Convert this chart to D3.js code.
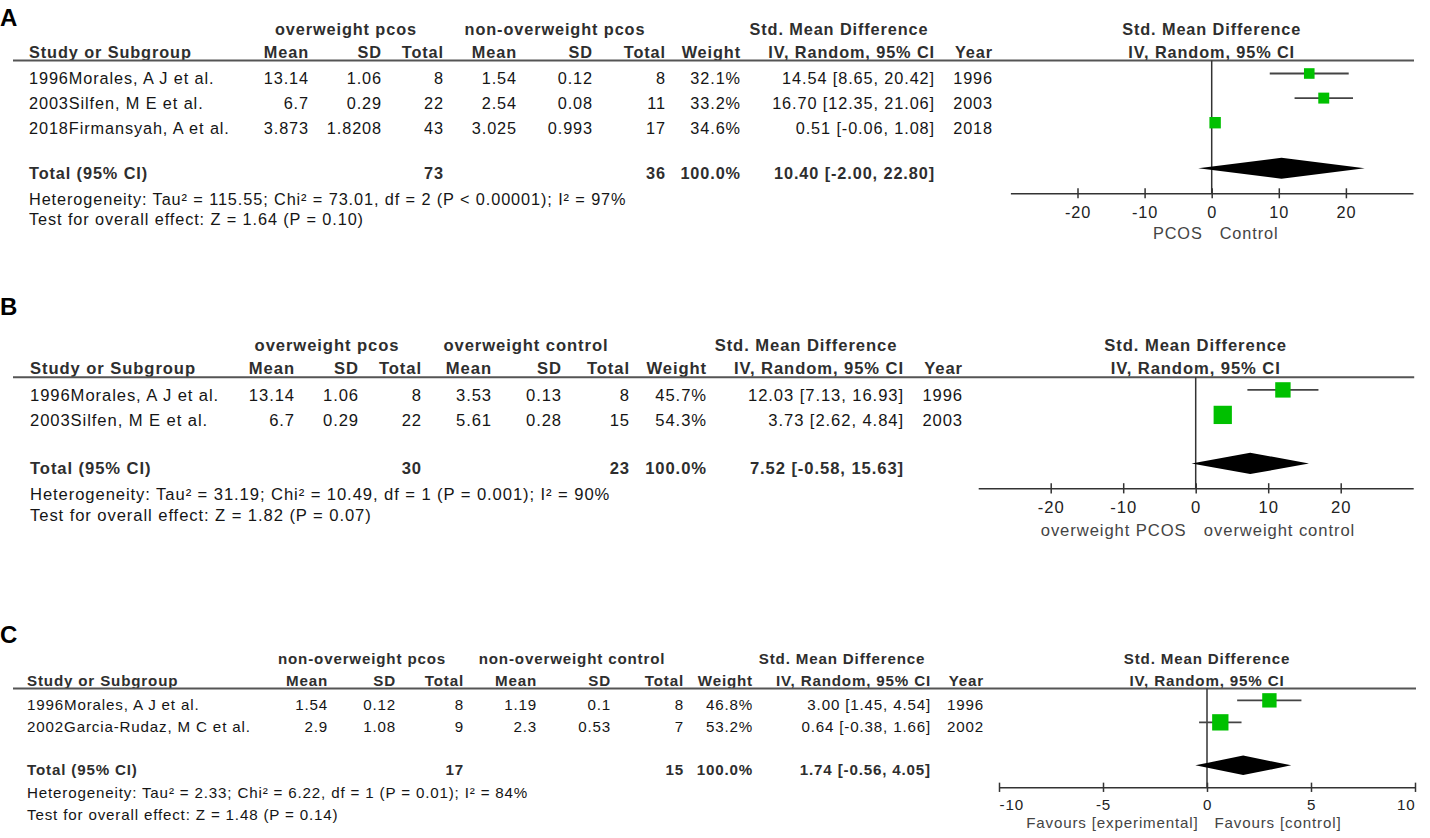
<!DOCTYPE html>
<html>
<head>
<meta charset="utf-8">
<script src="https://cdnjs.cloudflare.com/ajax/libs/d3/7.8.5/d3.min.js"></script>
<style>
  body { margin: 0; background: #fff; }
  svg text { font-family: 'Liberation Sans', Arial, Helvetica, sans-serif; }
</style>
</head>
<body>
<svg id="chart" width="1430" height="838"></svg>
<script>
// ---------- A: overweight pcos vs non-overweight pcos
const studiesA = ["1996Morales, A J et al.", "2003Silfen, M E et al.", "2018Firmansyah, A et al."];
const meanExpA = [13.14, 6.7, 3.873];
const sdExpA = [1.06, 0.29, 1.8208];
const nExpA = [8, 22, 43];
const meanCtlA = [1.54, 2.54, 3.025];
const sdCtlA = [0.12, 0.08, 0.993];
const nCtlA = [8, 11, 17];
const weightA = [32.1, 33.2, 34.6];
const smdA = [14.54, 16.70, 0.51];
const loA = [8.65, 12.35, -0.06];
const hiA = [20.42, 21.06, 1.08];
const yearA = [1996, 2003, 2018];
const totalNA = [73, 36];
const pooledA = [10.40, -2.00, 22.80];
const groupsA = ["overweight pcos", "non-overweight pcos"];
const favoursA = ["PCOS", "Control"];
const hetA = "Heterogeneity: Tau² = 115.55; Chi² = 73.01, df = 2 (P < 0.00001); I² = 97%";
const effectA = "Test for overall effect: Z = 1.64 (P = 0.10)";
const domainA = [-30, 30];
const ticksA = [-20, -10, 0, 10, 20];

// ---------- B: overweight pcos vs overweight control
const studiesB = ["1996Morales, A J et al.", "2003Silfen, M E et al."];
const meanExpB = [13.14, 6.7];
const sdExpB = [1.06, 0.29];
const nExpB = [8, 22];
const meanCtlB = [3.53, 5.61];
const sdCtlB = [0.13, 0.28];
const nCtlB = [8, 15];
const weightB = [45.7, 54.3];
const smdB = [12.03, 3.73];
const loB = [7.13, 2.62];
const hiB = [16.93, 4.84];
const yearB = [1996, 2003];
const totalNB = [30, 23];
const pooledB = [7.52, -0.58, 15.63];
const groupsB = ["overweight pcos", "overweight control"];
const favoursB = ["overweight PCOS", "overweight control"];
const hetB = "Heterogeneity: Tau² = 31.19; Chi² = 10.49, df = 1 (P = 0.001); I² = 90%";
const effectB = "Test for overall effect: Z = 1.82 (P = 0.07)";
const domainB = [-30, 30];
const ticksB = [-20, -10, 0, 10, 20];

// ---------- C: non-overweight pcos vs non-overweight control
const studiesC = ["1996Morales, A J et al.", "2002Garcia-Rudaz, M C et al."];
const meanExpC = [1.54, 2.9];
const sdExpC = [0.12, 1.08];
const nExpC = [8, 9];
const meanCtlC = [1.19, 2.3];
const sdCtlC = [0.1, 0.53];
const nCtlC = [8, 7];
const weightC = [46.8, 53.2];
const smdC = [3.00, 0.64];
const loC = [1.45, -0.38];
const hiC = [4.54, 1.66];
const yearC = [1996, 2002];
const totalNC = [17, 15];
const pooledC = [1.74, -0.56, 4.05];
const groupsC = ["non-overweight pcos", "non-overweight control"];
const favoursC = ["Favours [experimental]", "Favours [control]"];
const hetC = "Heterogeneity: Tau² = 2.33; Chi² = 6.22, df = 1 (P = 0.01); I² = 84%";
const effectC = "Test for overall effect: Z = 1.48 (P = 0.14)";
const domainC = [-10, 10];
const ticksC = [-10, -5, 0, 5, 10];

const colHeads = ["Mean", "SD", "Total"];

// layout of each panel (pixel positions)
const panels = [
  { letter: "A", studies: studiesA, mE: meanExpA, sdE: sdExpA, nE: nExpA, mC: meanCtlA, sdC: sdCtlA, nC: nCtlA,
    weight: weightA, est: smdA, lo: loA, hi: hiA, year: yearA, totalN: totalNA, pooled: pooledA,
    groups: groupsA, favours: favoursA, het: hetA, effect: effectA, domain: domainA, ticks: ticksA,
    s: 1, rowStep: 24.6,
    y: { letter: 17, group: 29.3, col: 51.7, line: 60.5, row0: 78.5, total: 173.3, het: 199.5, test: 219,
         axis: 193.3, tickLab: 211.7, fav: 233 },
    x: { study: 29, m1: 309, sd1: 382, n1: 444, m2: 517, sd2: 593, n2: 666, w: 741, ci: 935, yr: 993,
         g1: 346, g2: 555, gci: 839, f0: 1010.4, f1: 1413, line0: 13 } },
  { letter: "B", studies: studiesB, mE: meanExpB, sdE: sdExpB, nE: nExpB, mC: meanCtlB, sdC: sdCtlB, nC: nCtlB,
    weight: weightB, est: smdB, lo: loB, hi: hiB, year: yearB, totalN: totalNB, pooled: pooledB,
    groups: groupsB, favours: favoursB, het: hetB, effect: effectB, domain: domainB, ticks: ticksB,
    s: 1.02, rowStep: 25,
    y: { letter: 306.7, group: 345, col: 368, line: 377.3, row0: 395, total: 468.5, het: 493.7, test: 515,
         axis: 488.3, tickLab: 506.7, fav: 530 },
    x: { study: 30, m1: 295, sd1: 359, n1: 422, m2: 492, sd2: 562, n2: 630, w: 707, ci: 904, yr: 963,
         g1: 327, g2: 526, gci: 806, f0: 978.2, f1: 1413.2, line0: 13 } },
  { letter: "C", studies: studiesC, mE: meanExpC, sdE: sdExpC, nE: nExpC, mC: meanCtlC, sdC: sdCtlC, nC: nCtlC,
    weight: weightC, est: smdC, lo: loC, hi: hiC, year: yearC, totalN: totalNC, pooled: pooledC,
    groups: groupsC, favours: favoursC, het: hetC, effect: effectC, domain: domainC, ticks: ticksC,
    s: 0.93, rowStep: 22,
    y: { letter: 634, group: 659, col: 681, line: 688.5, row0: 705, total: 770, het: 793, test: 815,
         axis: 787.3, tickLab: 805, fav: 823 },
    x: { study: 27, m1: 328, sd1: 396, n1: 464, m2: 537, sd2: 611, n2: 684, w: 753, ci: 931, yr: 984,
         g1: 362, g2: 572, gci: 842, f0: 999, f1: 1415, line0: 13 } }
];

const svg = d3.select("#chart");
const ciText = (e, l, h) => e.toFixed(2) + " [" + l.toFixed(2) + ", " + h.toFixed(2) + "]";

function drawPanel(p) {
  const g = svg.append("g");
  const fs = 16.3 * p.s, ls = 0.9 * p.s;

  function text(x, cy, str, anchor, bold, color) {
    return g.append("text")
      .attr("x", x)
      .attr("y", cy + 0.36 * fs)
      .attr("text-anchor", anchor || "start")
      .attr("fill", color || "#151515")
      .style("font-size", fs + "px")
      .style("letter-spacing", ls + "px")
      .style("font-weight", bold ? "bold" : "normal")
      .text(str);
  }

  const x = d3.scaleLinear().domain(p.domain).range([p.x.f0, p.x.f1]);
  const size = d3.scaleLinear().domain([0, 100]).range([0, 33 * p.s]);
  const rowY = i => p.y.row0 + i * p.rowStep;
  const markShift = 5 * p.s;

  // panel letter
  g.append("text")
    .attr("x", 0).attr("y", p.y.letter + 0.36 * 24)
    .attr("fill", "#000")
    .style("font-size", "24px").style("font-weight", "bold")
    .text(p.letter);

  // group headers
  text(p.x.g1, p.y.group, p.groups[0], "middle", true, "#2e2e2e");
  text(p.x.g2, p.y.group, p.groups[1], "middle", true, "#2e2e2e");
  text(p.x.gci, p.y.group, "Std. Mean Difference", "middle", true, "#2e2e2e");
  text((p.x.f0 + p.x.f1) / 2, p.y.group, "Std. Mean Difference", "middle", true, "#2e2e2e");

  // column headers
  text(p.x.study, p.y.col, "Study or Subgroup", "start", true, "#2e2e2e");
  [p.x.m1, p.x.sd1, p.x.n1].forEach((cx, i) => text(cx, p.y.col, colHeads[i], "end", true, "#2e2e2e"));
  [p.x.m2, p.x.sd2, p.x.n2].forEach((cx, i) => text(cx, p.y.col, colHeads[i], "end", true, "#2e2e2e"));
  text(p.x.w, p.y.col, "Weight", "end", true, "#2e2e2e");
  text(p.x.ci, p.y.col, "IV, Random, 95% CI", "end", true, "#2e2e2e");
  text(p.x.yr, p.y.col, "Year", "end", true, "#2e2e2e");
  text((p.x.f0 + p.x.f1) / 2, p.y.col, "IV, Random, 95% CI", "middle", true, "#2e2e2e");

  // header rule
  g.append("line")
    .attr("x1", p.x.line0).attr("x2", p.x.f1 + 1)
    .attr("y1", p.y.line).attr("y2", p.y.line)
    .attr("stroke", "#555").attr("stroke-width", 2);

  // study rows
  p.studies.forEach((st, i) => {
    const cy = rowY(i);
    text(p.x.study, cy, st);
    text(p.x.m1, cy, String(p.mE[i]), "end");
    text(p.x.sd1, cy, String(p.sdE[i]), "end");
    text(p.x.n1, cy, String(p.nE[i]), "end");
    text(p.x.m2, cy, String(p.mC[i]), "end");
    text(p.x.sd2, cy, String(p.sdC[i]), "end");
    text(p.x.n2, cy, String(p.nC[i]), "end");
    text(p.x.w, cy, p.weight[i].toFixed(1) + "%", "end");
    text(p.x.ci, cy, ciText(p.est[i], p.lo[i], p.hi[i]), "end");
    text(p.x.yr, cy, String(p.year[i]), "end");
  });

  // total row
  text(p.x.study, p.y.total, "Total (95% CI)", "start", true, "#2e2e2e");
  text(p.x.n1, p.y.total, String(p.totalN[0]), "end", true, "#2e2e2e");
  text(p.x.n2, p.y.total, String(p.totalN[1]), "end", true, "#2e2e2e");
  text(p.x.w, p.y.total, "100.0%", "end", true, "#2e2e2e");
  text(p.x.ci, p.y.total, ciText(p.pooled[0], p.pooled[1], p.pooled[2]), "end", true, "#2e2e2e");
  text(p.x.study, p.y.het, p.het);
  text(p.x.study, p.y.test, p.effect);

  // line of no effect
  g.append("line")
    .attr("x1", x(0)).attr("x2", x(0))
    .attr("y1", p.y.line).attr("y2", p.y.axis)
    .attr("stroke", "#333").attr("stroke-width", 1.5);

  // confidence intervals
  g.selectAll("line.ci")
    .data(p.studies.map((d, i) => i))
    .enter().append("line")
    .attr("class", "ci")
    .attr("x1", i => x(p.lo[i])).attr("x2", i => x(p.hi[i]))
    .attr("y1", i => rowY(i) - markShift).attr("y2", i => rowY(i) - markShift)
    .attr("stroke", "#444").attr("stroke-width", 1.8);

  // weight squares
  g.selectAll("rect.est")
    .data(p.studies.map((d, i) => i))
    .enter().append("rect")
    .attr("class", "est")
    .attr("x", i => x(p.est[i]) - size(p.weight[i]) / 2)
    .attr("y", i => rowY(i) - markShift - size(p.weight[i]) / 2)
    .attr("width", i => size(p.weight[i]))
    .attr("height", i => size(p.weight[i]))
    .attr("fill", "#00c000");

  // pooled diamond
  const dy = p.y.total - markShift, h = 10.5 * p.s;
  g.append("path")
    .attr("d", d3.line()([
      [x(p.pooled[1]), dy], [x(p.pooled[0]), dy - h],
      [x(p.pooled[2]), dy], [x(p.pooled[0]), dy + h]
    ]) + "Z")
    .attr("fill", "#000");

  // axis
  const axis = d3.axisBottom(x)
    .tickValues(p.ticks)
    .tickSizeInner(5)
    .tickSizeOuter(0)
    .tickFormat(d => String(d));
  const ag = g.append("g")
    .attr("transform", "translate(0," + p.y.axis + ")")
    .call(axis);
  ag.select(".domain").attr("stroke", "#333").attr("stroke-width", 1.5);
  ag.selectAll(".tick line")
    .attr("y1", -5 * p.s).attr("y2", 5 * p.s)
    .attr("stroke", "#333").attr("stroke-width", 1.5);
  ag.selectAll(".tick text")
    .attr("y", p.y.tickLab - p.y.axis)
    .attr("dy", "0.36em")
    .attr("fill", "#222")
    .attr("text-anchor", d => d === p.domain[0] ? "start" : (d === p.domain[1] ? "end" : "middle"))
    .style("font-size", fs + "px")
    .style("letter-spacing", ls + "px");

  // favours labels
  text(x(0) - 9 * p.s, p.y.fav, p.favours[0], "end", false, "#444");
  text(x(0) + 8 * p.s, p.y.fav, p.favours[1], "start", false, "#444");
}

panels.forEach(drawPanel);
</script>
</body>
</html>
